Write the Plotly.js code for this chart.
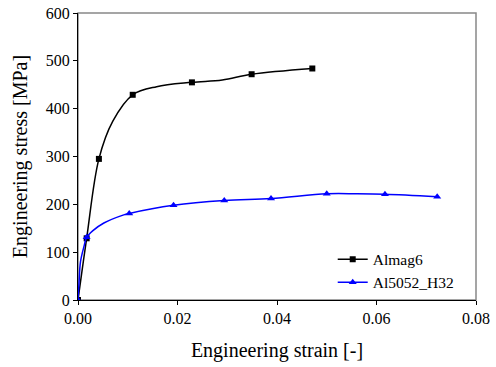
<!DOCTYPE html>
<html>
<head>
<meta charset="utf-8">
<script src="https://cdn.plot.ly/plotly-3.0.1.min.js"></script>
<style>html,body{margin:0;padding:0;background:#fff;}#chart{width:496px;height:367px;}</style>
</head>
<body>
<div id="chart"></div>
<script>
// Almag6: curve points and marker points
const almagCurveStrain = [0, 0.00174, 0.0042, 0.0070, 0.011, 0.0158, 0.0229, 0.0290, 0.0349, 0.0471];
const almagCurveStress = [0, 129, 295, 374, 429, 446, 455, 460, 472, 484];
const almagMarkStrain = [0, 0.00174, 0.0042, 0.011, 0.0229, 0.0349, 0.0471];
const almagMarkStress = [0, 129, 295, 429, 455, 472, 484];

// Al5052_H32
const alCurveStrain = [0, 0.0002, 0.0005, 0.0012, 0.00174, 0.003, 0.0052, 0.0092, 0.0103, 0.0192, 0.0294, 0.0388, 0.0500, 0.0560, 0.0617, 0.0722];
const alCurveStress = [0, 35, 80, 112, 131, 145, 161, 178, 181, 198, 208, 212, 222, 222, 221, 216];
const alMarkStrain = [0, 0.00174, 0.0103, 0.0192, 0.0294, 0.0388, 0.0500, 0.0617, 0.0722];
const alMarkStress = [0, 131, 181, 198, 208, 212, 222, 221, 216];

const seriesNames = ['Almag6', 'Al5052_H32'];
const xTicks = [0, 0.02, 0.04, 0.06, 0.08];
const xTickText = ['0.00', '0.02', '0.04', '0.06', '0.08'];
const yTicks = [0, 100, 200, 300, 400, 500, 600];

const font = 'Liberation Serif';

const traces = [
  {x: almagCurveStrain, y: almagCurveStress, mode: 'lines', line: {color: '#000', width: 1.5, shape: 'spline', smoothing: 1}, showlegend: false, hoverinfo: 'skip'},
  {x: almagMarkStrain, y: almagMarkStress, mode: 'markers', marker: {symbol: 'square', size: 6, color: '#000'}, showlegend: false},
  {x: alCurveStrain, y: alCurveStress, mode: 'lines', line: {color: '#0000ff', width: 1.5, shape: 'spline', smoothing: 1}, showlegend: false, hoverinfo: 'skip'},
  {x: alMarkStrain, y: alMarkStress, mode: 'markers', marker: {symbol: 'triangle-up', size: 7, color: '#0000ff'}, showlegend: false},
  {x: [null], y: [null], name: seriesNames[0], mode: 'lines+markers', line: {color: '#000', width: 1.5}, marker: {symbol: 'square', size: 6, color: '#000'}},
  {x: [null], y: [null], name: seriesNames[1], mode: 'lines+markers', line: {color: '#0000ff', width: 1.5}, marker: {symbol: 'triangle-up', size: 7, color: '#0000ff'}}
];

const layout = {
  width: 496, height: 367,
  margin: {l: 78, r: 20, t: 13, b: 67},
  paper_bgcolor: '#fff', plot_bgcolor: '#fff',
  font: {family: font, size: 15, color: '#000'},
  xaxis: {
    range: [0, 0.08], tickvals: xTicks, ticktext: xTickText,
    showgrid: false, zeroline: false, showline: true, linecolor: '#000', linewidth: 1,
    ticks: 'outside', ticklen: 4, tickcolor: '#000',
    tickfont: {family: font, size: 16, color: '#000'},
    title: {text: 'Engineering strain [-]', font: {family: font, size: 20, color: '#000'}, standoff: 16}
  },
  yaxis: {
    range: [0, 600], tickvals: yTicks,
    showgrid: false, zeroline: false, showline: true, linecolor: '#000', linewidth: 1,
    ticks: 'outside', ticklen: 4, tickcolor: '#000',
    tickfont: {family: font, size: 16, color: '#000'},
    title: {text: 'Engineering stress [MPa]', font: {family: font, size: 20, color: '#000'}, standoff: 12}
  },
  shapes: [{type: 'rect', xref: 'paper', yref: 'paper', x0: 0, x1: 1, y0: 0, y1: 1, line: {color: '#888', width: 1.5}, layer: 'below'}],
  legend: {x: 0.64, y: 0.2, xanchor: 'left', yanchor: 'top', bgcolor: 'rgba(0,0,0,0)', font: {family: font, size: 15.5, color: '#000'}, tracegroupgap: 0, itemwidth: 30}
};

Plotly.newPlot('chart', traces, layout, {displayModeBar: false, staticPlot: true});
</script>
</body>
</html>
